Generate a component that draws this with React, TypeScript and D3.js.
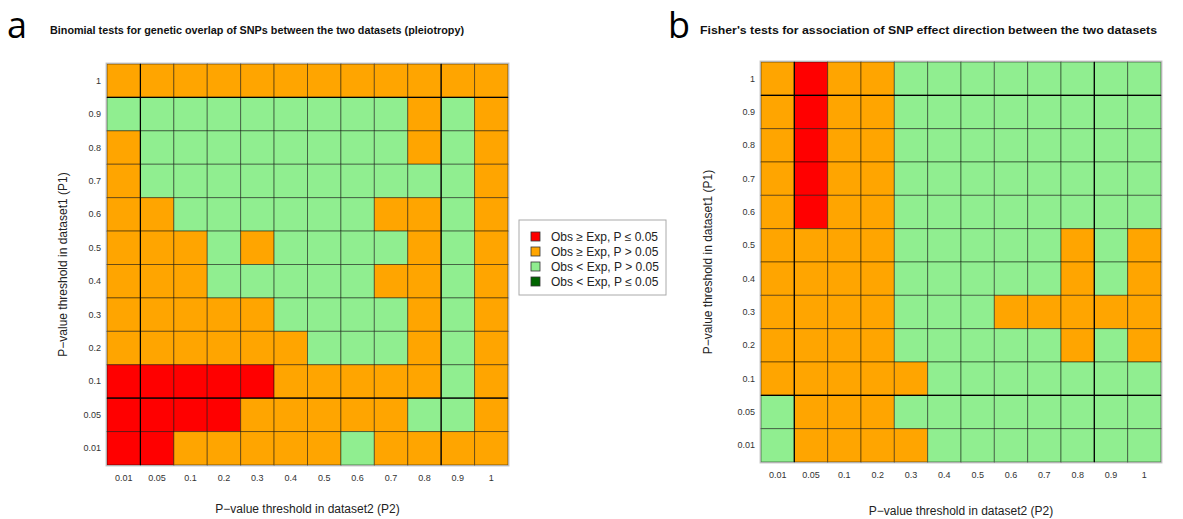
import React from 'react';
import * as d3 from 'd3';

// thresholds (columns = dataset2, rows = dataset1, top row first)
const p2Labels = ['0.01', '0.05', '0.1', '0.2', '0.3', '0.4', '0.5', '0.6', '0.7', '0.8', '0.9', '1'];
const p1Labels = ['1', '0.9', '0.8', '0.7', '0.6', '0.5', '0.4', '0.3', '0.2', '0.1', '0.05', '0.01'];

// R = Obs>=Exp P<=0.05, O = Obs>=Exp P>0.05, G = Obs<Exp P>0.05, D = Obs<Exp P<=0.05
const binomialRows = [
  'OOOOOOOOOOOO',
  'GGGGGGGGGOGO',
  'OGGGGGGGGOGO',
  'OGGGGGGGGGGO',
  'OOGGGGGGOOGO',
  'OOOGOGGGGOGO',
  'OOOGGGGGOOGO',
  'OOOOOGGGGOGO',
  'OOOOOOGGGOGO',
  'RRRRROOOOOGO',
  'RRRROOOOOGGO',
  'RROOOOOGOOOO',
];

const fisherRows = [
  'OROOGGGGGGGG',
  'OROOGGGGGGGG',
  'OROOGGGGGGGG',
  'OROOGGGGGGGG',
  'OROOGGGGGGGG',
  'OOOOGGGGGOGO',
  'OOOOGGGGGOGO',
  'OOOOGGGOOOOO',
  'OOOOGGGGGOGO',
  'OOOOOGGGGGGG',
  'GOOOGGGGGGGG',
  'GOOOOGGGGGGG',
];

const legendCodes = ['R', 'O', 'G', 'D'];
const legendLabels = ['Obs \u2265 Exp, P \u2264 0.05', 'Obs \u2265 Exp, P > 0.05', 'Obs < Exp, P > 0.05', 'Obs < Exp, P \u2264 0.05'];

const colorOf = {
  R: '#ff0000',
  O: '#ffa500',
  G: '#90ee90',
  D: '#006400',
};

const font = '"Liberation Sans", Arial, sans-serif';

const Heatmap = ({ rows, x0, y0, size, letter, letterX, title, titleX, titleLen, tickRight, ylabX, xlabY }) => {
  const xScale = d3.scaleBand().domain(p2Labels).range([x0, x0 + size]);
  const yScale = d3.scaleBand().domain(p1Labels).range([y0, y0 + size]);
  const bw = xScale.bandwidth();
  // heavier separators between 0.01|0.05, 0.8|0.9 (cols) and 1|0.9, 0.1|0.05 (rows)
  const vThick = [xScale('0.05'), xScale('0.9')];
  const hThick = [yScale('0.9'), yScale('0.05')];
  const cells = [];
  rows.forEach((r, i) => {
    r.split('').forEach((c, j) => {
      cells.push({ row: p1Labels[i], col: p2Labels[j], code: c });
    });
  });
  return <g>
    <text x={letterX} y={38} fontFamily='"Open Sans", sans-serif' fontSize={36} fill='#000'>{letter}</text>
    <text x={titleX} y={34} fontFamily={font} fontWeight='bold' fontSize={11}
      textLength={titleLen} lengthAdjust='spacingAndGlyphs' fill='#111'>{title}</text>
    <rect x={x0 - 1} y={y0 - 1} width={size + 2} height={size + 2} fill='none' stroke='#ccc'></rect>
    {cells.map(d => (
      <rect key={d.row + '_' + d.col}
        x={xScale(d.col)} y={yScale(d.row)} width={bw} height={bw}
        fill={colorOf[d.code]} stroke='rgba(0,0,0,0.45)' strokeWidth={1}></rect>
    ))}
    {vThick.map(x => (
      <line key={'v' + x} x1={x} x2={x} y1={y0} y2={y0 + size} stroke='#000' strokeWidth={1.2}></line>
    ))}
    {hThick.map(y => (
      <line key={'h' + y} x1={x0} x2={x0 + size} y1={y} y2={y} stroke='#000' strokeWidth={1.2}></line>
    ))}
    {p2Labels.map(l => (
      <text key={'xt' + l} x={xScale(l) + bw / 2} y={y0 + size + 16} textAnchor='middle'
        fontFamily={font} fontSize={9} fill='#333'>{l}</text>
    ))}
    {p1Labels.map(l => (
      <text key={'yt' + l} x={tickRight} y={yScale(l) + bw / 2} textAnchor='end' dominantBaseline='central'
        fontFamily={font} fontSize={9} fill='#333'>{l}</text>
    ))}
    <text x={x0 + size / 2} y={xlabY} textAnchor='middle' fontFamily={font} fontSize={12} fill='#222'>
      P{'\u2212'}value threshold in dataset2 (P2)
    </text>
    <text transform={`translate(${ylabX}, ${y0 + size / 2}) rotate(-90)`} textAnchor='middle'
      dominantBaseline='central' fontFamily={font} fontSize={12} fill='#222'>
      P{'\u2212'}value threshold in dataset1 (P1)
    </text>
  </g>;
};

const Legend = ({ x, y }) => {
  const yScale = d3.scaleBand().domain(legendCodes).range([y + 9, y + 69]);
  return <g>
    <rect x={x} y={y} width={147} height={75} fill='#fff' stroke='#aaa'></rect>
    {legendCodes.map((c, i) => {
      const cy = yScale(c) + yScale.bandwidth() / 2;
      return <g key={c}>
        <rect x={x + 12} y={cy - 4.5} width={9} height={9} fill={colorOf[c]} stroke='#333' strokeWidth={0.8}></rect>
        <text x={x + 32} y={cy} dominantBaseline='central' fontFamily={font} fontSize={12} fill='#222'>{legendLabels[i]}</text>
      </g>;
    })}
  </g>;
};

export default function App() {
  return <div style={{ position: 'absolute', left: 0, top: 0 }}>
    <svg width={1183} height={519} style={{ display: 'block', background: '#fff' }}>
      <Heatmap rows={binomialRows} x0={107} y0={64} size={401} letter='a' letterX={7}
        title='Binomial tests for genetic overlap of SNPs between the two datasets (pleiotropy)'
        titleX={50} titleLen={414} tickRight={101} ylabX={63} xlabY={513} />
      <Heatmap rows={fisherRows} x0={761} y0={62} size={400} letter='b' letterX={668}
        title="Fisher's tests for association of SNP effect direction between the two datasets"
        titleX={700} titleLen={457} tickRight={755} ylabX={708} xlabY={515} />
      <Legend x={519} y={220} />
    </svg>
  </div>;
}
